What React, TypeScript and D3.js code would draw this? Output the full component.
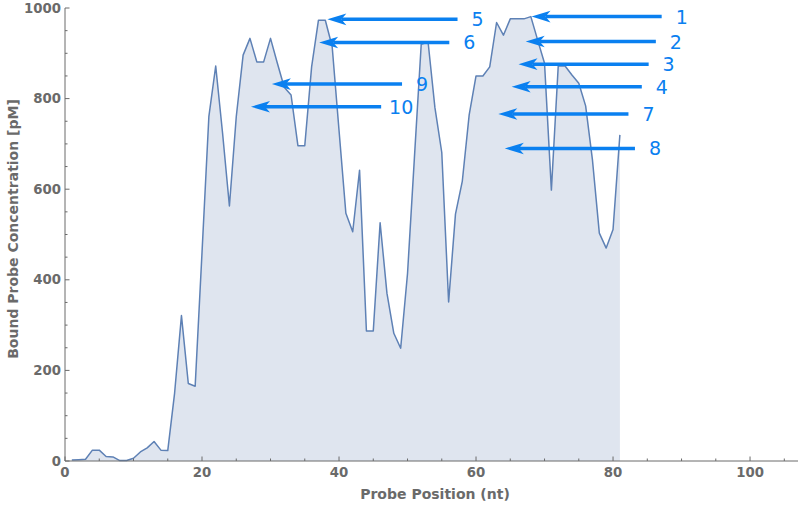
import React from "react";
import * as d3 from "d3";

const probeValues: number[] = [
  2, 3, 4, 24, 24, 10, 9, 1, 1, 6,
  20, 29, 43, 24, 23, 150, 321, 171, 165, 460,
  760, 872, 724, 563, 760, 896, 933, 881, 881, 933,
  878, 825, 808, 696, 696, 870, 973, 973, 915, 730,
  547, 506, 642, 287, 287, 526, 370, 282, 249, 414,
  668, 920, 925, 780, 681, 351, 545, 618, 764, 850,
  850, 870, 968, 940, 976, 976, 976, 981, 929, 878,
  598, 872, 872, 852, 834, 784, 664, 503, 470, 511,
  720,
];

const arrowLabels = ["1", "2", "3", "4", "5", "6", "7", "8", "9", "10"];
const arrowTipX = [68.1, 67.25, 66.2, 65.2, 38.3, 37.1, 63.25, 64.2, 30.2, 27.15];
const arrowY = [981, 926, 876, 826, 975, 924, 766, 690, 832, 782];
const arrowLength = 19;

const xMajorTicks = [0, 20, 40, 60, 80, 100];
const yMajorTicks = [0, 200, 400, 600, 800, 1000];

const W = 800;
const H = 505;
const LINE = "#5e81b5";
const FILL = "#dfe5ef";
const AXIS = "#6a6a6a";
const ARROW = "#0a80f0";
const FONT = "'DejaVu Sans', sans-serif";

export default function App() {
  const x = d3.scaleLinear().domain([0, 107]).range([65, 798]);
  const y = d3.scaleLinear().domain([0, 1000]).range([461, 8]);

  const pts: [number, number][] = probeValues.map((v, i) => [i + 1, v]);
  const line = d3
    .line<[number, number]>()
    .x((d) => x(d[0]))
    .y((d) => y(d[1]));
  const area = d3
    .area<[number, number]>()
    .x((d) => x(d[0]))
    .y0(y(0))
    .y1((d) => y(d[1]));

  const xMinor = d3.range(0, 107, 5).filter((t) => t % 20 !== 0);
  const yMinor = d3.range(0, 1001, 50).filter((t) => t % 200 !== 0);

  const headLen = 19;
  const headHalf = 5.8;
  const notch = 5;

  return (
    <svg
      width={W}
      height={H}
      style={{ position: "absolute", left: 0, top: 0, background: "#fff" }}
      fontFamily={FONT}
    >
      <path d={area(pts) || ""} fill={FILL} />
      <path d={line(pts) || ""} fill="none" stroke={LINE} strokeWidth={1.5} strokeLinejoin="round" />

      {/* axes */}
      <line x1={x(0)} x2={x(107)} y1={y(0)} y2={y(0)} stroke={AXIS} strokeWidth={1} />
      <line x1={x(0)} x2={x(0)} y1={y(0)} y2={y(1000)} stroke={AXIS} strokeWidth={1} />

      {xMajorTicks.map((t) => (
        <g key={"xm" + t}>
          <line x1={x(t)} x2={x(t)} y1={y(0)} y2={y(0) - 4.5} stroke={AXIS} />
          <text
            x={x(t)}
            y={y(0) + 11}
            textAnchor="middle"
            dominantBaseline="central"
            fontSize={13.3}
            fontWeight="bold"
            fill={AXIS}
          >
            {t}
          </text>
        </g>
      ))}
      {xMinor.map((t) => (
        <line key={"xn" + t} x1={x(t)} x2={x(t)} y1={y(0)} y2={y(0) - 2.5} stroke={AXIS} />
      ))}

      {yMajorTicks.map((t) => (
        <g key={"ym" + t}>
          <line x1={x(0)} x2={x(0) + 4.5} y1={y(t)} y2={y(t)} stroke={AXIS} />
          <text
            x={x(0) - 4}
            y={y(t)}
            textAnchor="end"
            dominantBaseline="central"
            fontSize={13.3}
            fontWeight="bold"
            fill={AXIS}
          >
            {t}
          </text>
        </g>
      ))}
      {yMinor.map((t) => (
        <line key={"yn" + t} x1={x(0)} x2={x(0) + 2.5} y1={y(t)} y2={y(t)} stroke={AXIS} />
      ))}

      <text
        x={435}
        y={494}
        textAnchor="middle"
        dominantBaseline="central"
        fontSize={14}
        fontWeight="bold"
        fill={AXIS}
      >
        Probe Position (nt)
      </text>
      <text
        transform={`translate(13,229) rotate(-90)`}
        textAnchor="middle"
        dominantBaseline="central"
        fontSize={14}
        fontWeight="bold"
        fill={AXIS}
      >
        Bound Probe Concentration [pM]
      </text>

      {/* arrows */}
      {arrowLabels.map((lab, i) => {
        const tx = x(arrowTipX[i]);
        const ty = y(arrowY[i]);
        const tail = x(arrowTipX[i] + arrowLength);
        const head = `M${tx},${ty} L${tx + headLen},${ty - headHalf} L${tx + headLen - notch},${ty} L${tx + headLen},${ty + headHalf} Z`;
        return (
          <g key={"a" + lab}>
            <line x1={tx + headLen - notch} x2={tail} y1={ty} y2={ty} stroke={ARROW} strokeWidth={3.5} />
            <path d={head} fill={ARROW} />
            <text
              x={tail + 20}
              y={ty}
              textAnchor="middle"
              dominantBaseline="central"
              fontSize={19}
              fill={ARROW}
            >
              {lab}
            </text>
          </g>
        );
      })}
    </svg>
  );
}
